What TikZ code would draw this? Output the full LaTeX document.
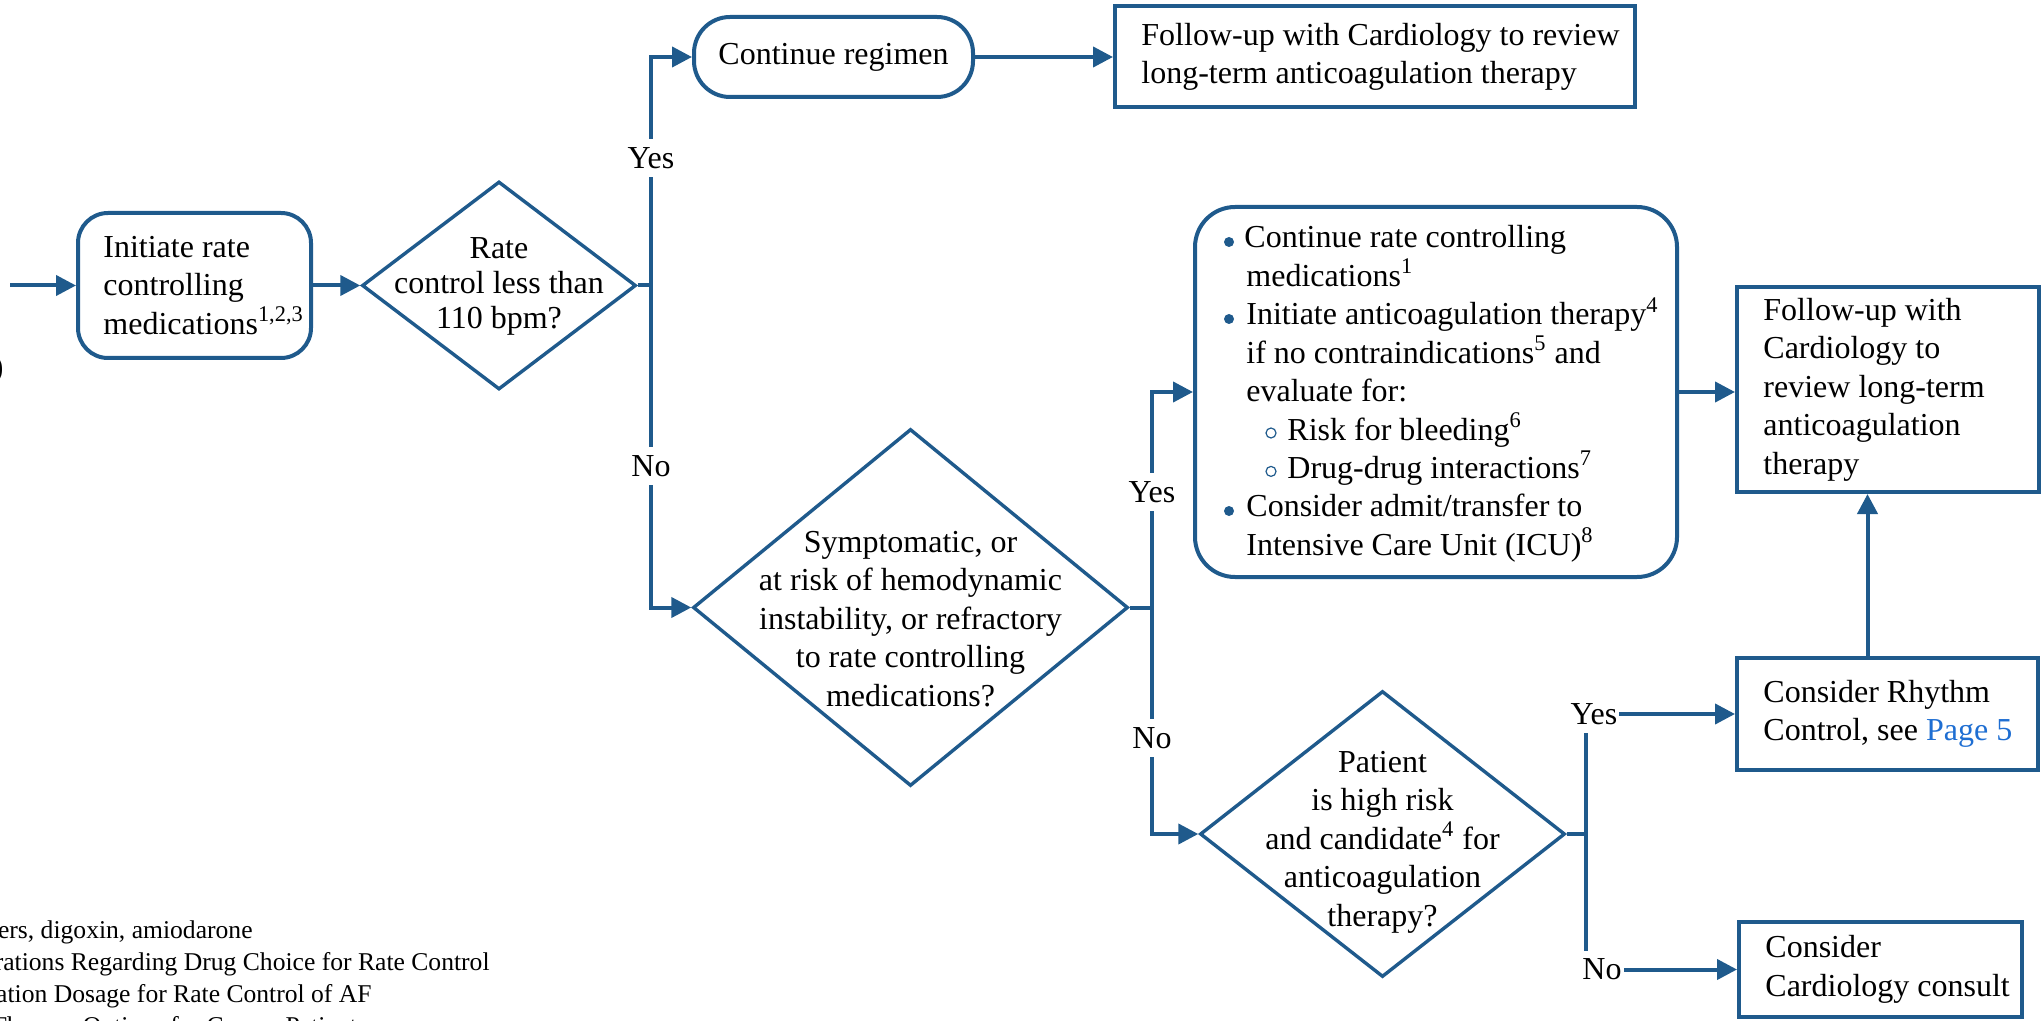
\documentclass[tikz,border=0pt]{standalone}
\usepackage{fontspec}
\setmainfont{Liberation Serif}
\usetikzlibrary{arrows.meta,shapes.geometric}
\definecolor{nblue}{RGB}{31,90,140}
\definecolor{lblue}{RGB}{30,110,210}
\newcommand{\mfont}{\fontsize{16}{19.25}\selectfont}
\begin{document}
\begin{tikzpicture}[x=0.5pt,y=-0.5pt,
  line/.style={draw=nblue,line width=2pt},
  arr/.style={draw=nblue,line width=2pt,-{Triangle[length=10pt,width=10pt]}},
  boxr/.style={draw=nblue,line width=2pt,inner sep=0pt},
  boxs/.style={draw=nblue,line width=2pt,inner sep=0pt},
  dia/.style={draw=nblue,line width=1.7pt,diamond,inner sep=0pt},
  txl/.style={font=\mfont,align=left,inner sep=0pt},
  txc/.style={font=\mfont,align=center,inner sep=0pt},
  bl/.style={font=\mfont,anchor=base west,inner sep=0pt},
  lab/.style={fill=white,inner xsep=1pt,inner ysep=4pt,font=\mfont},
  foot/.style={font=\fontsize{12.8}{16}\selectfont,inner sep=0pt,anchor=base east}]
\useasboundingbox (0,0) rectangle (2043,1021);
\clip (0,0) rectangle (2043,1021);

% boxes and decisions
\node[boxr,rounded corners=15pt,minimum width=116.5pt,minimum height=72.5pt] (b1) at (194.5,285.5) {};
\node[txl,anchor=west] (b1t) at ([xshift=13.5pt]b1.west) {Initiate rate\\controlling\\medications\textsuperscript{1,2,3}};

\node[dia,minimum width=137pt,minimum height=104pt] (d1) at (499,285.5) {};
\node[txc,font=\fontsize{16}{17.5}\selectfont] (d1t) at (499,286) {Rate\\control less than\\110 bpm?};

\node[boxr,rounded corners=18pt,minimum width=139.5pt,minimum height=40pt] (cont) at (833.5,57) {};
\node[txl,anchor=west] (contt) at ([xshift=13pt]cont.west) {Continue regimen};

\node[boxs,minimum width=260pt,minimum height=50.5pt] (fol) at (1375,57) {};
\node[txl,anchor=west] (folt) at ([xshift=14pt]fol.west) {Follow-up with Cardiology to review\\long-term anticoagulation therapy};

\node[dia,minimum width=217.5pt,minimum height=178.5pt] (d2) at (910.5,607.5) {};
\node[txc] (d2t) at (910.5,619) {Symptomatic, or\\at risk of hemodynamic\\instability, or refractory\\to rate controlling\\medications?};

\node[boxr,rounded corners=20pt,minimum width=241pt,minimum height=185pt] (bul) at (1436,392) {};
\node[bl] (l1) at (1244,248) {Continue rate controlling};
\node[bl] (l2) at (1246,286.4) {medications\textsuperscript{1}};
\node[bl] (l3) at (1246,324.8) {Initiate anticoagulation therapy\textsuperscript{4}};
\node[bl] (l4) at (1246,363.2) {if no contraindications\textsuperscript{5} and};
\node[bl] (l5) at (1246,401.6) {evaluate for:};
\node[bl] (l6) at (1287,440) {Risk for bleeding\textsuperscript{6}};
\node[bl] (l7) at (1287,478.4) {Drug-drug interactions\textsuperscript{7}};
\node[bl] (l8) at (1246,516.8) {Consider admit/transfer to};
\node[bl] (l9) at (1246,555.2) {Intensive Care Unit (ICU)\textsuperscript{8}};
\fill[nblue] (1229,242) circle (2.5pt);
\fill[nblue] (1229,319) circle (2.5pt);
\fill[nblue] (1229,511) circle (2.5pt);
\draw[nblue,line width=0.6pt] (1271,433) circle (2.5pt);
\draw[nblue,line width=0.6pt] (1271,471.4) circle (2.5pt);

\node[boxs,minimum width=151pt,minimum height=102.5pt] (big) at (1888,389.5) {};
\node[txl,anchor=west] (bigt) at ([xshift=14pt]big.west) {Follow-up with\\Cardiology to\\review long-term\\anticoagulation\\therapy};

\node[dia,minimum width=182.5pt,minimum height=143pt] (d3) at (1382.5,834) {};
\node[txc] (d3t) at (1382.5,842) {Patient\\is high risk\\and candidate\textsuperscript{4} for\\anticoagulation\\therapy?};

\node[boxs,minimum width=150.5pt,minimum height=56pt] (rhy) at (1887.5,714) {};
\node[txl,anchor=west] (rhyt) at ([xshift=14pt]rhy.west) {Consider Rhythm\\Control, see \textcolor{lblue}{Page 5}};

\node[boxs,minimum width=141.5pt,minimum height=47.5pt] (card) at (1880.5,969.5) {};
\node[txl,anchor=west] (cardt) at ([xshift=14pt]card.west) {Consider\\Cardiology consult};

% connectors
\coordinate (s0) at (10,285.5);
\draw[arr] (s0) -- (b1.west);
\draw[arr] (b1.east) -- (d1.west);
\coordinate (j1) at (651,285.5);
\draw[line] (d1.east) -- (j1);
\draw[arr] (j1) |- (cont.west);
\draw[arr] (j1) |- (d2.west);
\draw[arr] (cont.east) -- (fol.west);
\coordinate (j2) at (1152,607.5);
\draw[line] (d2.east) -- (j2);
\draw[arr] (j2) |- (bul.west);
\draw[arr] (j2) |- (d3.west);
\draw[arr] (bul.east) -- (bul.east -| big.west);
\draw[arr] ([xshift=-10pt]rhy.north) -- ([xshift=-10pt]rhy.north |- big.south);
\coordinate (j3) at (1586,834);
\draw[line] (d3.east) -- (j3);
\draw[arr] (j3) |- (rhy.west);
\draw[arr] (j3) |- (card.west);

% branch labels
\node[lab] (y1) at (651,158) {Yes};
\node[lab] (n1) at (651,466) {No};
\node[lab] (y2) at (1152,492) {Yes};
\node[lab] (n2) at (1152,738) {No};
\node[lab] (y3) at (1594,714) {Yes};
\node[lab] (n3) at (1602,969.5) {No};

% footnotes (cut by the page edge)
\node[foot] (f1) at (253,938) {blockers, digoxin, amiodarone};
\node[foot] (f2) at (490,970) {Considerations Regarding Drug Choice for Rate Control};
\node[foot] (f3) at (372,1002) {Medication Dosage for Rate Control of AF};
\node[foot] (f4) at (367,1034) {Therapy Options for Cancer Patients};
\node[font=\mfont,anchor=base east,inner sep=0pt] (pp) at (4,378) {)};
\end{tikzpicture}
\end{document}
